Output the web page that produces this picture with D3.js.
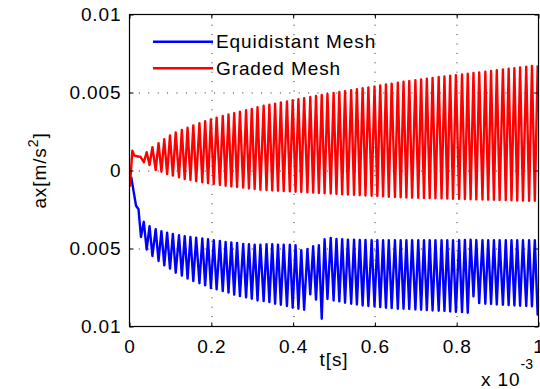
<!DOCTYPE html>
<html>
<head>
<meta charset="utf-8">
<script src="https://cdn.jsdelivr.net/npm/d3@7"></script>
<style>
  html, body { margin: 0; padding: 0; background: #fff; }
  svg text { font-family: "Liberation Sans", Arial, Helvetica, sans-serif; fill: #000; }
</style>
</head>
<body>
<svg id="chart" width="540" height="389"></svg>
<script>
// t in units of 1e-3 s, ax in units of 1e-3 m/s^2
const xTicks = [0, 0.2, 0.4, 0.6, 0.8, 1];
const yTicks = [-0.01, -0.005, 0, 0.005, 0.01];
const seriesNames = ["Equidistant Mesh", "Graded Mesh"];
const seriesColors = ["#0000ff", "#ff0000"];

// shared turning points of the oscillation (peak / trough instants)
const cycleT = [
  0.035, 0.042, 0.049, 0.056, 0.064, 0.071, 0.078, 0.085, 0.092, 0.099,
  0.106, 0.113, 0.121, 0.128, 0.135, 0.142, 0.149, 0.156, 0.163, 0.171,
  0.178, 0.185, 0.192, 0.199, 0.206, 0.213, 0.221, 0.228, 0.235, 0.242,
  0.249, 0.256, 0.263, 0.270, 0.278, 0.285, 0.292, 0.299, 0.306, 0.313,
  0.320, 0.328, 0.335, 0.342, 0.349, 0.356, 0.363, 0.370, 0.377, 0.385,
  0.392, 0.399, 0.406, 0.413, 0.420, 0.427, 0.435, 0.442, 0.449, 0.456,
  0.463, 0.470, 0.477, 0.484, 0.492, 0.499, 0.506, 0.513, 0.520, 0.527,
  0.534, 0.542, 0.549, 0.556, 0.563, 0.570, 0.577, 0.584, 0.592, 0.599,
  0.606, 0.613, 0.620, 0.627, 0.634, 0.641, 0.649, 0.656, 0.663, 0.670,
  0.677, 0.684, 0.691, 0.699, 0.706, 0.713, 0.720, 0.727, 0.734, 0.741,
  0.748, 0.756, 0.763, 0.770, 0.777, 0.784, 0.791, 0.798, 0.806, 0.813,
  0.820, 0.827, 0.834, 0.841, 0.848, 0.855, 0.863, 0.870, 0.877, 0.884,
  0.891, 0.898, 0.905, 0.913, 0.920, 0.927, 0.934, 0.941, 0.948, 0.955,
  0.962, 0.970, 0.977, 0.984, 0.991, 0.998
];

// Graded Mesh (red)
const gradedStartT  = [0.001, 0.007, 0.012, 0.021, 0.027];
const gradedStartAx = [-1.04, 1.27, 0.95, 0.90, 0.87];
const gradedTroughs = [
  0.53, 0.35, 0.03, -0.08, -0.23, -0.33, -0.44, -0.55, -0.61, -0.69,
  -0.76, -0.82, -0.87, -0.93, -0.98, -1.03, -1.06, -1.10, -1.15, -1.19,
  -1.23, -1.26, -1.28, -1.30, -1.32, -1.34, -1.36, -1.38, -1.40, -1.42,
  -1.44, -1.46, -1.48, -1.50, -1.52, -1.54, -1.56, -1.58, -1.60, -1.62,
  -1.64, -1.66, -1.68, -1.70, -1.72, -1.73, -1.74, -1.75, -1.76, -1.77,
  -1.78, -1.79, -1.80, -1.81, -1.82, -1.83, -1.84, -1.85, -1.86, -1.87,
  -1.88, -1.89, -1.90, -1.91, -1.92, -1.93, -1.94, -1.94
];
const gradedPeaks = [
  1.17, 1.49, 1.75, 2.00, 2.24, 2.44, 2.60, 2.74, 2.89, 3.03,
  3.16, 3.28, 3.39, 3.49, 3.59, 3.68, 3.77, 3.86, 3.95, 4.05,
  4.15, 4.22, 4.29, 4.36, 4.43, 4.50, 4.57, 4.64, 4.71, 4.78,
  4.85, 4.91, 4.97, 5.03, 5.09, 5.15, 5.21, 5.27, 5.33, 5.39,
  5.45, 5.51, 5.57, 5.63, 5.69, 5.74, 5.79, 5.84, 5.89, 5.94,
  5.99, 6.03, 6.07, 6.11, 6.16, 6.20, 6.25, 6.29, 6.34, 6.38,
  6.43, 6.47, 6.52, 6.56, 6.61, 6.65, 6.70, 6.74
];

// Equidistant Mesh (blue)
const equiStartT  = [0.004, 0.016, 0.022, 0.028];
const equiStartAx = [-0.40, -2.26, -2.48, -4.26];
const equiPeaks = [
  -3.29, -3.57, -3.76, -3.89, -3.98, -4.06, -4.15, -4.21, -4.26, -4.30,
  -4.36, -4.41, -4.47, -4.51, -4.58, -4.62, -4.64, -4.71, -4.73, -4.75,
  -4.75, -4.73, -4.73, -4.75, -4.75, -4.75, -4.79, -5.11, -5.03, -4.86,
  -4.79, -4.41, -4.32, -4.38, -4.41, -4.43, -4.43, -4.45, -4.45, -4.46,
  -4.46, -4.47, -4.47, -4.47, -4.47, -4.47, -4.46, -4.47, -4.47, -4.47,
  -4.46, -4.47, -4.47, -4.47, -4.46, -4.45, -4.44, -4.46, -4.47, -4.47,
  -4.47, -4.47, -4.47, -4.47, -4.47, -4.47, -4.47, -4.47
];
const equiTroughs = [
  -5.07, -5.48, -5.80, -6.08, -6.29, -6.55, -6.74, -6.93, -7.09, -7.23,
  -7.36, -7.54, -7.62, -7.73, -7.83, -7.96, -8.05, -8.13, -8.22, -8.33,
  -8.37, -8.44, -8.54, -8.61, -8.69, -8.80, -8.86, -8.93, -7.94, -8.28,
  -9.50, -8.24, -8.33, -8.39, -8.48, -8.54, -8.59, -8.65, -8.69, -8.71,
  -8.76, -8.80, -8.82, -8.86, -8.86, -8.88, -8.91, -8.93, -8.95, -8.97,
  -8.99, -9.01, -9.04, -9.06, -9.08, -9.12, -8.07, -8.50, -8.54, -8.56,
  -8.59, -8.61, -8.63, -8.65, -8.67, -8.69, -8.71, -9.29
];

const fontSize = 19;
const spacing = "0.9px";
const margin = { left: 129.5, right: 1.5, top: 14.5, bottom: 62.5 };
const width = 540 - margin.left - margin.right;
const height = 389 - margin.top - margin.bottom;

function buildSeries(startT, startAx, evenVals, oddVals) {
  const pts = startT.map((t, i) => [t, startAx[i]]);
  cycleT.forEach((t, j) => {
    pts.push([t, j % 2 === 0 ? evenVals[j >> 1] : oddVals[j >> 1]]);
  });
  return pts;
}

const series = [
  buildSeries(equiStartT, equiStartAx, equiPeaks, equiTroughs),
  buildSeries(gradedStartT, gradedStartAx, gradedTroughs, gradedPeaks)
];

const svg = d3.select("#chart")
  .append("g")
  .attr("transform", "translate(" + margin.left + "," + margin.top + ")");

const x = d3.scaleLinear().domain([0, 1]).range([0, width]);
const y = d3.scaleLinear().domain([-0.01, 0.01]).range([height, 0]);

// grid
const grid = svg.append("g")
  .attr("stroke", "#222")
  .attr("stroke-width", 1)
  .attr("stroke-dasharray", "1,8.4");
grid.selectAll(".vg")
  .data(xTicks.slice(1, -1))
  .join("line")
  .attr("x1", d => Math.round(x(d)) + 0.5)
  .attr("x2", d => Math.round(x(d)) + 0.5)
  .attr("y1", height)
  .attr("y2", 0);
grid.selectAll(".hg")
  .data(yTicks.slice(1, -1))
  .join("line")
  .attr("y1", d => Math.round(y(d)) + 0.5)
  .attr("y2", d => Math.round(y(d)) + 0.5)
  .attr("x1", 0)
  .attr("x2", width);

// data lines
svg.append("clipPath").attr("id", "plotclip")
  .append("rect").attr("width", width).attr("height", height);

const line = d3.line()
  .x(d => x(d[0]))
  .y(d => y(d[1] / 1000));

svg.append("g")
  .attr("clip-path", "url(#plotclip)")
  .selectAll("path")
  .data(series)
  .join("path")
  .attr("fill", "none")
  .attr("stroke", (d, i) => seriesColors[i])
  .attr("stroke-width", 2.4)
  .attr("stroke-linejoin", "round")
  .attr("d", line);

// axes (ticks inward, MATLAB-style box)
const fmt = d => d === 0 ? "0" : String(Math.abs(+d.toFixed(3)));

svg.append("g")
  .attr("transform", "translate(0," + height + ")")
  .call(d3.axisBottom(x).tickValues(xTicks).tickSizeInner(-4).tickSizeOuter(0).tickPadding(13)
    .tickFormat(d => String(d)));
svg.append("g")
  .call(d3.axisTop(x).tickValues(xTicks).tickSizeInner(-4).tickSizeOuter(0).tickFormat(""));
svg.append("g")
  .call(d3.axisLeft(y).tickValues(yTicks).tickSizeInner(-4).tickSizeOuter(0).tickPadding(8)
    .tickFormat(fmt));
svg.append("g")
  .attr("transform", "translate(" + width + ",0)")
  .call(d3.axisRight(y).tickValues(yTicks).tickSizeInner(-4).tickSizeOuter(0).tickFormat(""));

svg.selectAll(".domain").remove();
svg.selectAll(".tick line").attr("stroke", "#000");
svg.selectAll(".tick text")
  .style("font-size", fontSize + "px")
  .style("letter-spacing", spacing)
  .style("font-family", "'Liberation Sans', Arial, sans-serif");

svg.append("rect")
  .attr("x", 0).attr("y", 0)
  .attr("width", width).attr("height", height)
  .attr("fill", "none")
  .attr("stroke", "#000")
  .attr("stroke-width", 1.2);

// axis titles
svg.append("text")
  .attr("x", width / 2)
  .attr("y", 351.5)
  .attr("text-anchor", "middle")
  .style("font-size", fontSize + "px")
  .style("letter-spacing", spacing)
  .text("t[s]");

const yTitle = svg.append("text")
  .attr("transform", "translate(" + (46 - margin.left) + "," + (height / 2) + ") rotate(-90)")
  .attr("text-anchor", "middle")
  .style("font-size", fontSize + "px")
  .style("letter-spacing", spacing);
yTitle.append("tspan").text("ax[m/s");
yTitle.append("tspan").attr("dy", -8).style("font-size", "14px").text("2");
yTitle.append("tspan").attr("dy", 8).text("]");

const expo = svg.append("text")
  .attr("x", 481 - margin.left)
  .attr("y", 386 - margin.top)
  .style("font-size", fontSize + "px")
  .style("letter-spacing", spacing);
expo.append("tspan").text("x 10");
expo.append("tspan").attr("dy", -17).style("font-size", "14px").style("letter-spacing", "0px").text("-3");

// legend
const legend = svg.append("g")
  .selectAll("g")
  .data(seriesNames)
  .join("g")
  .attr("transform", (d, i) => "translate(" + (153 - margin.left) + "," + (41.7 + i * 26.6 - margin.top) + ")");
legend.append("line")
  .attr("x1", 0).attr("x2", 60)
  .attr("stroke", (d, i) => seriesColors[i])
  .attr("stroke-width", 2.4);
legend.append("text")
  .attr("x", 63)
  .attr("dy", "0.35em")
  .style("font-size", fontSize + "px")
  .style("letter-spacing", spacing)
  .text(d => d);
</script>
</body>
</html>
